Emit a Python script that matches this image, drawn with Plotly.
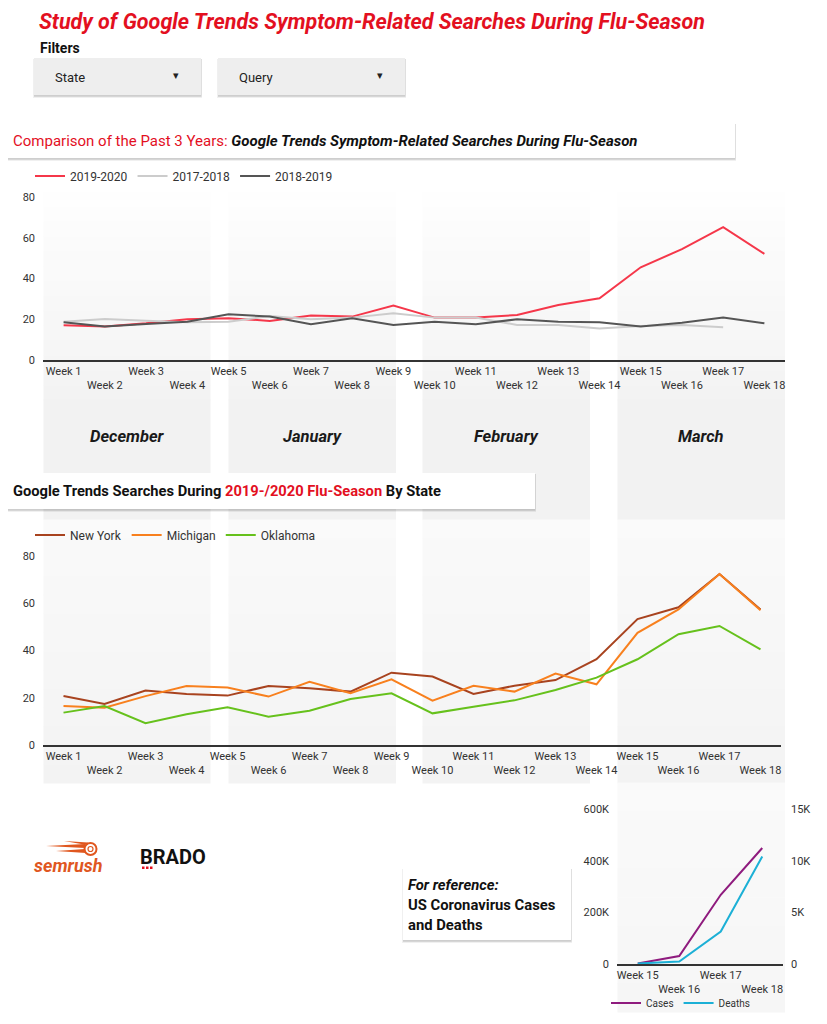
import plotly.graph_objects as go

# ---------------- data ----------------
weeks = [f"Week {i}" for i in range(1, 19)]
season_2019_2020 = [17, 16.5, 18, 20, 20.5, 19.2, 21.8, 21.3, 26.7, 20.8, 20.8, 22.1, 27, 30.3, 45.5, 54.4, 65.2, 52.1]
season_2017_2018 = [18.8, 20.1, 19.3, 18.5, 18.8, 21.6, 20, 20.8, 22.9, 20.8, 20.8, 17.2, 17.2, 15.4, 16.7, 17.2, 16.1, None]
season_2018_2019 = [18.5, 16.4, 17.7, 18.8, 22.4, 21.3, 17.5, 20.5, 17.2, 18.8, 17.5, 20, 18.8, 18.5, 16.4, 18.3, 20.8, 18]

new_york = [20.7, 17.4, 23.1, 21.6, 20.9, 25, 24, 22.6, 30.6, 29, 21.6, 25.1, 27.5, 36.3, 53.3, 58.3, 72.4, 57.4]
michigan = [16.5, 15.8, 20.7, 25, 24.3, 20.5, 26.8, 21.9, 27.8, 18.8, 25.1, 22.6, 30.2, 25.7, 47.5, 57.4, 72.4, 57.0]
oklahoma = [13.7, 16.5, 9.2, 13, 16, 12, 14.5, 19.5, 21.9, 13.4, 16.2, 18.9, 23.3, 28.5, 36.3, 46.9, 50.4, 40.5]

covid_weeks = ["Week 15", "Week 16", "Week 17", "Week 18"]
us_cases = [2000, 31000, 268000, 449000]
us_deaths = [50, 230, 3140, 10400]

months = ["December", "January", "February", "March"]
y_ticks_main = [0, 20, 40, 60, 80]
case_ticks = [0, 200000, 400000, 600000]
case_tick_text = ["0", "200K", "400K", "600K"]
death_ticks = [0, 5000, 10000, 15000]
death_tick_text = ["0", "5K", "10K", "15K"]

# ---------------- helpers ----------------
W, H = 827, 1024
OX, OY = 8, 8          # page body margin offset
FONT = "Roboto"
RED = "#e3101f"
ORANGE_LOGO = "#e0571f"


def px(x):
    return (x - OX) / W


def py(y):
    return 1 - (y - OY) / H


def alt(labels):
    return [t if i % 2 == 0 else "<br>" + t for i, t in enumerate(labels)]


shapes = []


def rect(x0, y0, x1, y1, color, layer="below"):
    shapes.append(dict(type="rect", xref="paper", yref="paper",
                       x0=px(x0), x1=px(x1), y0=py(y1), y1=py(y0),
                       fillcolor=color, line=dict(width=0), layer=layer))


def mix(c0, c1, t):
    return "#%02x%02x%02x" % tuple(round(a + (b - a) * t) for a, b in zip(c0, c1))


def gradient(x0, x1, y0, y1, c_top, c_bot, n=14):
    step = (y1 - y0) / n
    for i in range(n):
        rect(x0, y0 + i * step, x1, y0 + (i + 1) * step + 0.6, mix(c_top, c_bot, (i + 0.5) / n))


def card(x0, y0, x1, y1, fill="#ffffff"):
    rect(x0 - 1, y0 + 1, x1 + 1, y1 + 3, "rgba(0,0,0,0.06)")
    rect(x0, y0 + 1, x1 + 0.5, y1 + 1.8, "rgba(0,0,0,0.14)")
    rect(x0, y0, x1, y1, fill)


def tri(points, color):
    path = "M " + " L ".join("%f,%f" % (px(a), py(b)) for a, b in points) + " Z"
    shapes.append(dict(type="path", xref="paper", yref="paper", path=path, fillcolor=color,
                       line=dict(width=0), layer="above"))


# month bands (gradient backgrounds)
bands = [(43.5, 210.5), (228.5, 396), (422.5, 590), (617.5, 785)]
for i, (b0, b1) in enumerate(bands):
    gradient(b0, b1, 192, 400, (254, 254, 254), (243, 243, 243))
    rect(b0, 399.5, b1, 520, "#f2f2f2")
    gradient(b0, b1, 519.5, 783, (250, 250, 250), (243, 243, 243))
    if i == 3:
        gradient(b0, b1, 782.5, 1012, (250, 250, 250), (246, 246, 246), n=8)

# filter boxes and header cards
card(34, 58, 201, 95, "#eeeeee")
card(218, 58, 405, 95, "#eeeeee")
card(7, 123, 735, 158)
card(7, 473, 535, 509)
card(403, 868, 571, 940)

# logo marks (decorative)
shapes.append(dict(type="circle", xref="paper", yref="paper", x0=px(84.5), x1=px(96.5), y0=py(855), y1=py(843),
                   line=dict(color=ORANGE_LOGO, width=2), fillcolor="rgba(0,0,0,0)", layer="above"))
shapes.append(dict(type="circle", xref="paper", yref="paper", x0=px(88), x1=px(93), y0=py(851.5), y1=py(846.5),
                   line=dict(color=ORANGE_LOGO, width=1.2), fillcolor="rgba(0,0,0,0)", layer="above"))
tri([(46, 846), (85, 844), (85, 848)], ORANGE_LOGO)
tri([(56, 851), (85, 849), (86, 853)], ORANGE_LOGO)
tri([(64, 841), (88, 842.5), (87, 845)], ORANGE_LOGO)
for dx in (142, 146, 150):
    rect(dx, 866.5, dx + 2.5, 869, "#e3101f", layer="above")

fig = go.Figure()

# ---------------- chart 1 ----------------
fig.add_trace(go.Scatter(x=weeks, y=season_2019_2020, name="2019-2020", mode="lines",
                         line=dict(color="#f5374a", width=2), xaxis="x", yaxis="y", legend="legend"))
fig.add_trace(go.Scatter(x=weeks, y=season_2017_2018, name="2017-2018", mode="lines",
                         line=dict(color="#cccccc", width=2), xaxis="x", yaxis="y", legend="legend"))
fig.add_trace(go.Scatter(x=weeks, y=season_2018_2019, name="2018-2019", mode="lines",
                         line=dict(color="#555555", width=2), xaxis="x", yaxis="y", legend="legend"))

# ---------------- chart 2 ----------------
fig.add_trace(go.Scatter(x=weeks, y=new_york, name="New York", mode="lines",
                         line=dict(color="#a8431f", width=2), xaxis="x2", yaxis="y2", legend="legend2"))
fig.add_trace(go.Scatter(x=weeks, y=michigan, name="Michigan", mode="lines",
                         line=dict(color="#f8801e", width=2), xaxis="x2", yaxis="y2", legend="legend2"))
fig.add_trace(go.Scatter(x=weeks, y=oklahoma, name="Oklahoma", mode="lines",
                         line=dict(color="#66c11c", width=2), xaxis="x2", yaxis="y2", legend="legend2"))

# ---------------- chart 3 ----------------
fig.add_trace(go.Scatter(x=covid_weeks, y=us_cases, name="Cases", mode="lines",
                         line=dict(color="#8f1b7e", width=2), xaxis="x3", yaxis="y3", legend="legend3"))
fig.add_trace(go.Scatter(x=covid_weeks, y=us_deaths, name="Deaths", mode="lines",
                         line=dict(color="#1cb0d6", width=2), xaxis="x3", yaxis="y4", legend="legend3"))

tickfont = dict(family=FONT, size=11, color="#333333")
xcommon = dict(type="category", showgrid=False, zeroline=False, showline=True, linecolor="#333333",
               linewidth=1.5, tickangle=0, tickfont=tickfont, ticks="", automargin=False)
ycommon = dict(showgrid=False, zeroline=False, showline=False, tickfont=tickfont, ticks="",
               ticklabelstandoff=7, automargin=False)

annotations = []


def text(x, y, s, size=13, color="#222222", xanchor="left", bold=False, italic=False):
    if bold:
        s = "<b>" + s + "</b>"
    if italic:
        s = "<i>" + s + "</i>"
    annotations.append(dict(x=px(x), y=py(y), xref="paper", yref="paper", text=s, showarrow=False,
                            xanchor=xanchor, yanchor="middle", borderpad=0,
                            font=dict(family=FONT, size=size, color=color)))


text(38, 21, "Study of Google Trends Symptom-Related Searches During Flu-Season", size=21.5, color=RED,
     bold=True, italic=True)
text(39, 48, "Filters", size=14, color="#111111", bold=True)
text(54, 77, "State", size=13)
text(176, 75, "▾", size=11, xanchor="center")
text(238, 77, "Query", size=13)
text(380, 75, "▾", size=11, xanchor="center")
text(12, 141, "<span style='color:%s'>Comparison of the Past 3 Years:</span> "
     "<b><i>Google Trends Symptom-Related Searches During Flu-Season</i></b>" % RED, size=15, color="#111111")
text(12, 491, "<b>Google Trends Searches During <span style='color:%s'>2019-/2020 Flu-Season</span> By State</b>"
     % RED, size=14.7, color="#111111")
for (b0, b1), m in zip(bands, months):
    text((b0 + b1) / 2, 436, m, size=16.5, color="#1a1a1a", xanchor="center", bold=True, italic=True)
text(407, 885, "For reference:", size=14.8, color="#111111", bold=True, italic=True)
text(407, 905, "US Coronavirus Cases", size=14.8, color="#111111", bold=True)
text(407, 925, "and Deaths", size=14.8, color="#111111", bold=True)
text(33, 865, "semrush", size=18, color=ORANGE_LOGO, bold=True, italic=True)
text(139, 857, "BRADO", size=20, color="#111111", bold=True)

legend_common = dict(orientation="h", xanchor="left", yanchor="middle", bgcolor="rgba(0,0,0,0)",
                     borderwidth=0, itemclick=False, itemdoubleclick=False, tracegroupgap=0)

fig.update_layout(
    template="none",
    width=W, height=H, margin=dict(l=0, r=0, t=0, b=0, autoexpand=False),
    paper_bgcolor="#ffffff", plot_bgcolor="rgba(0,0,0,0)",
    font=dict(family=FONT, color="#333333"),
    xaxis=dict(xcommon, domain=[px(43), px(785)], anchor="y", tickvals=weeks, ticktext=alt(weeks),
               range=[-0.5, 17.5]),
    yaxis=dict(ycommon, domain=[py(360), py(197)], anchor="x", range=[0, 80], tickvals=y_ticks_main),
    xaxis2=dict(xcommon, domain=[px(43), px(781)], anchor="y2", tickvals=weeks, ticktext=alt(weeks),
                range=[-0.5, 17.5]),
    yaxis2=dict(ycommon, domain=[py(745), py(556)], anchor="x2", range=[0, 80], tickvals=y_ticks_main),
    xaxis3=dict(xcommon, domain=[px(617), px(783)], anchor="y3", tickvals=covid_weeks,
                ticktext=alt(covid_weeks), range=[-0.5, 3.5]),
    yaxis3=dict(ycommon, domain=[py(964), py(809)], anchor="x3", range=[0, 600000], tickvals=case_ticks,
                ticktext=case_tick_text),
    yaxis4=dict(ycommon, overlaying="y3", side="right", anchor="x3", range=[0, 15000], tickvals=death_ticks,
                ticktext=death_tick_text),
    legend=dict(legend_common, x=px(30), y=py(176), font=dict(family=FONT, size=12, color="#333333")),
    legend2=dict(legend_common, x=px(30), y=py(535), font=dict(family=FONT, size=12, color="#333333")),
    legend3=dict(legend_common, x=px(606), y=py(1003), font=dict(family=FONT, size=10, color="#333333")),
    shapes=shapes, annotations=annotations, showlegend=True,
)

fig.write_html("out.html")
